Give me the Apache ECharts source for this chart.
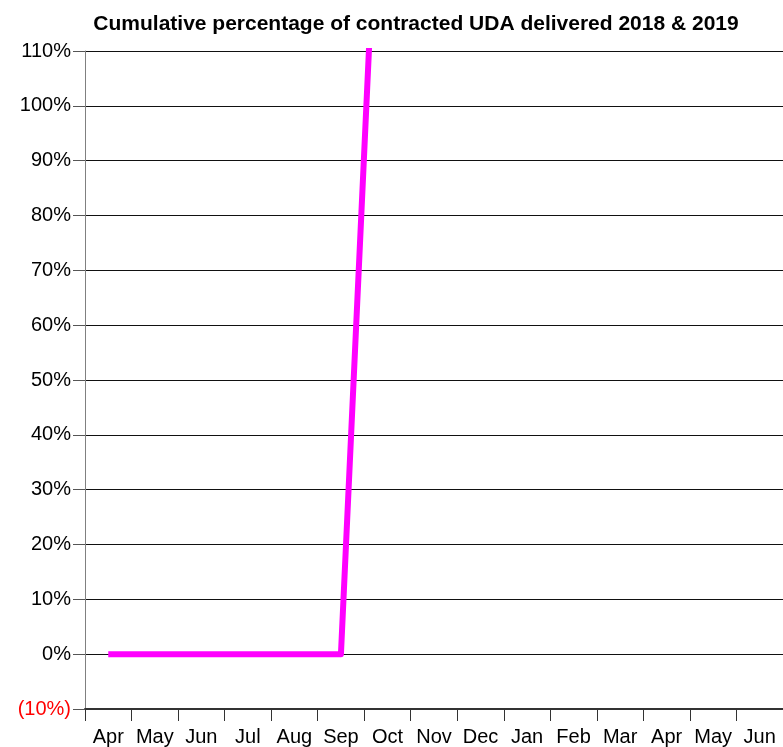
<!DOCTYPE html>
<html>
<head>
<meta charset="utf-8">
<script src="https://cdn.jsdelivr.net/npm/echarts@6/dist/echarts.min.js"></script>
<style>html,body{margin:0;padding:0;background:#fff}#c{width:783px;height:747px}</style>
</head>
<body>
<div id="c"></div>
<script>
var titleText = 'Cumulative percentage of contracted UDA delivered 2018 & 2019';
var months = ['Apr','May','Jun','Jul','Aug','Sep','Oct','Nov','Dec','Jan','Feb','Mar','Apr','May','Jun'];
var cumulativePct = [0, 0, 0, 0, 0, 0, 183, null, null, null, null, null, null, null, null];
var yMin = -10, yMax = 110, yStep = 10;

var chart = echarts.init(document.getElementById('c'), null, {renderer: 'canvas'});
chart.setOption({
  animation: false,
  backgroundColor: '#fff',
  title: {
    text: titleText,
    left: 411, top: 9, textAlign: 'center',
    textStyle: {fontFamily: 'Liberation Sans', fontWeight: 'bold', fontSize: 21, color: '#000'}
  },
  grid: {left: 85, top: 51, right: -2, bottom: 36, containLabel: false},
  xAxis: {
    type: 'category',
    data: months,
    boundaryGap: true,
    axisLine: {onZero: false, lineStyle: {color: '#333', width: 2}},
    axisTick: {show: true, length: 12, alignWithLabel: false, lineStyle: {color: '#333', width: 1}},
    axisLabel: {interval: 0, margin: 18, fontFamily: 'Liberation Sans', fontSize: 20, color: '#000'},
    splitLine: {show: false}
  },
  yAxis: {
    type: 'value',
    min: yMin, max: yMax, interval: yStep,
    axisLine: {show: true, lineStyle: {color: '#808080', width: 1}},
    axisTick: {show: true, length: 12, lineStyle: {color: '#555'}},
    axisLabel: {
      margin: 14, fontFamily: 'Liberation Sans', fontSize: 20, color: '#000',
      formatter: function (v) { return v < 0 ? '{neg|(' + Math.abs(v) + '%)}' : v + '%'; },
      rich: {neg: {color: '#ff0000', fontFamily: 'Liberation Sans', fontSize: 20}}
    },
    splitLine: {show: true, lineStyle: {color: '#111', width: 1}}
  },
  series: [{
    type: 'line',
    data: cumulativePct,
    symbol: 'none',
    connectNulls: false,
    clip: true,
    lineStyle: {color: '#ff00ff', width: 6, cap: 'butt', join: 'round'}
  }]
});
</script>
</body>
</html>
